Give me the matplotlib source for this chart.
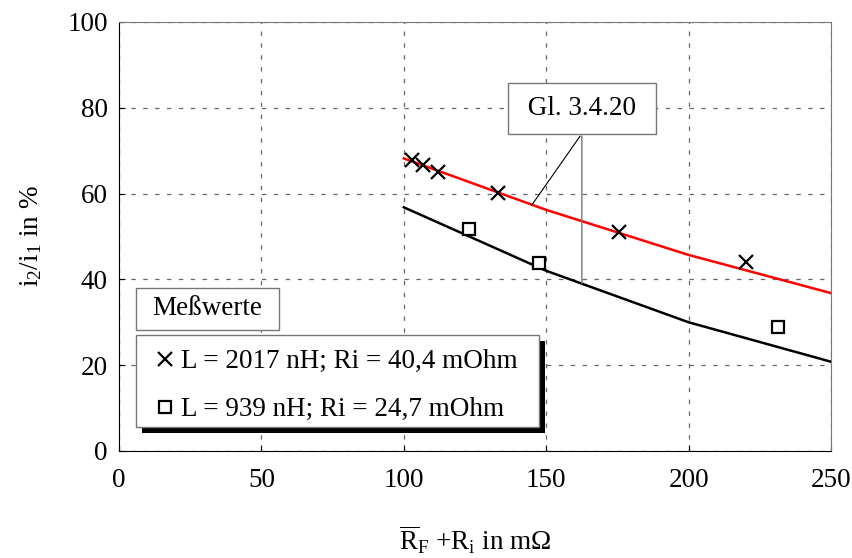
import matplotlib.pyplot as plt
from matplotlib.patches import Rectangle

plt.rcParams['font.family'] = 'serif'
plt.rcParams['font.serif'] = ['Liberation Serif', 'DejaVu Serif']
plt.rcParams['mathtext.fontset'] = 'custom'
plt.rcParams['mathtext.rm'] = 'Liberation Serif'
plt.rcParams['mathtext.it'] = 'Liberation Serif:italic'
plt.rcParams['font.size'] = 19.5

# Messwerte
x_l2017 = [102.8, 106.9, 112.1, 133.2, 175.7, 220.0]
y_l2017 = [67.8, 66.7, 65.1, 60.2, 51.0, 44.0]
x_l939 = [123.0, 147.6, 231.5]
y_l939 = [51.7, 43.9, 29.0]

# Rechnung nach Gl. 3.4.20
x_calc = [100, 150, 200, 250]
y_calc_2017 = [68.2, 56.2, 45.7, 36.8]
y_calc_939 = [56.8, 42.0, 30.0, 20.8]

label_2017 = 'L = 2017 nH; Ri = 40,4 mOhm'
label_939 = 'L = 939 nH; Ri = 24,7 mOhm'

fig = plt.figure(figsize=(8.52, 5.58), dpi=100)
ax = fig.add_axes([0.1397, 0.1918, 0.8357, 0.7688])

ax.plot(x_calc, y_calc_2017, color='#ff0000', lw=1.8, zorder=3)
ax.plot(x_calc, y_calc_939, color='black', lw=1.8, zorder=3)
h1, = ax.plot(x_l2017, y_l2017, ls='none', marker='x', ms=10, mew=1.6,
              color='black', zorder=4)
h2, = ax.plot(x_l939, y_l939, ls='none', marker='s', ms=9, mew=1.6,
              mfc='white', mec='black', zorder=4)

ax.set_xlim(0, 250)
ax.set_ylim(0, 100)
ax.set_xticks([0, 50, 100, 150, 200, 250])
ax.set_yticks([0, 20, 40, 60, 80, 100])
ax.tick_params(direction='in', length=4, width=0.8)
ax.tick_params(axis='x', pad=12)
ax.tick_params(axis='y', pad=8)
ax.grid(True, color='#666666', lw=0.9, linestyle=(0, (3.5, 6)))

for side in ['top', 'right']:
    ax.spines[side].set_color('#777777')
for side in ['left', 'bottom']:
    ax.spines[side].set_color('black')

ax.set_ylabel(r'$\mathrm{i_2/i_1}$ in %', labelpad=17)
ax.set_xlabel(r'$\overline{\mathrm{R}}_\mathrm{F}$ +R$_\mathrm{i}$ in m$\Omega$',
              labelpad=22)

# Beschriftung der Rechenkurven
ax.annotate('', xy=(144.9, 57.3), xytext=(161.9, 73.4),
            arrowprops=dict(arrowstyle='-', color='black', lw=0.8,
                            shrinkA=0, shrinkB=0), zorder=5)
ax.annotate('', xy=(162.5, 39.1), xytext=(162.5, 73.4),
            arrowprops=dict(arrowstyle='-', color='#777777', lw=1.0,
                            shrinkA=0, shrinkB=0), zorder=5)
ax.text(162.5, 79.8, ' Gl. 3.4.20 ', ha='center', va='center', zorder=6,
        bbox=dict(boxstyle='square,pad=0.48', fc='white', ec='#777777', lw=1.0))

# Legende mit Schatten
tr = ax.transAxes
ax.add_artist(Rectangle((0.0239, 0.282), 0.2008, 0.098, transform=tr,
                        fc='white', ec='#777777', lw=1.0, zorder=6, clip_on=False))
ax.text(0.1243, 0.331, 'Meßwerte', transform=tr, ha='center', va='center', zorder=7)

ax.add_artist(Rectangle((0.0239 + 0.0084, 0.056 - 0.014), 0.5663, 0.214, transform=tr,
                        fc='black', ec='none', zorder=6, clip_on=False))
ax.add_artist(Rectangle((0.0239, 0.056), 0.5663, 0.214, transform=tr,
                        fc='white', ec='#777777', lw=1.0, zorder=6.5, clip_on=False))
leg = ax.legend([h1, h2], [label_2017, label_939], loc='upper left',
                bbox_to_anchor=(0.043, 0.25), frameon=False, handlelength=0.7,
                handletextpad=0.25, labelspacing=0.85, borderaxespad=0,
                borderpad=0.2)
leg.set_zorder(8)

fig.savefig('out.png', dpi=100)
